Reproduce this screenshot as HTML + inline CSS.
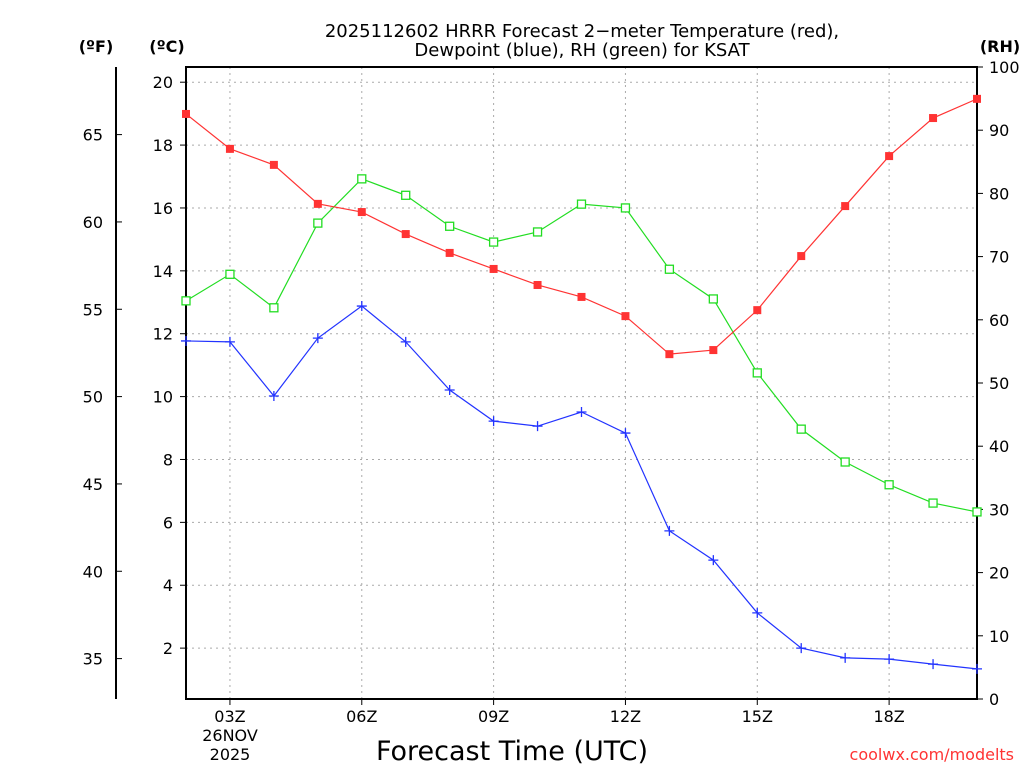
<!DOCTYPE html>
<html><head><meta charset="utf-8"><style>
html,body{margin:0;padding:0;background:#fff;}
svg text{font-family:"DejaVu Sans","Liberation Sans",sans-serif;}
</style></head><body>
<svg width="1024" height="768" viewBox="0 0 1024 768" id="chart">
<g id="g"></g>
<text x="582" y="37" text-anchor="middle" font-size="18">2025112602 HRRR Forecast 2−meter Temperature (red),</text>
<text x="582" y="56" text-anchor="middle" font-size="18">Dewpoint (blue), RH (green) for KSAT</text>
<text x="96" y="52" text-anchor="middle" font-size="16" font-weight="bold">(ºF)</text>
<text x="167" y="52" text-anchor="middle" font-size="16" font-weight="bold">(ºC)</text>
<text x="1000" y="52" text-anchor="middle" font-size="16" font-weight="bold">(RH)</text>
<text x="230" y="741" text-anchor="middle" font-size="16">26NOV</text>
<text x="230" y="760" text-anchor="middle" font-size="16">2025</text>
<text x="512" y="760" text-anchor="middle" font-size="27">Forecast Time (UTC)</text>
<text x="1014" y="760" text-anchor="end" font-size="16" fill="#ff3333">coolwx.com/modelts</text>
</svg>
<script>
const hours=[2,3,4,5,6,7,8,9,10,11,12,13,14,15,16,17,18,19,20];
const tempC=[18.99,17.88,17.37,16.13,15.87,15.17,14.57,14.06,13.55,13.17,12.56,11.35,11.48,12.75,14.47,16.06,17.65,18.86,19.47];
const dewC=[11.77,11.74,10.02,11.86,12.88,11.74,10.21,9.22,9.06,9.51,8.84,5.73,4.80,3.12,2.00,1.69,1.65,1.49,1.34];
const rh=[63.0,67.2,61.9,75.3,82.3,79.7,74.8,72.3,73.9,78.3,77.7,68.0,63.3,51.6,42.7,37.5,33.9,31.0,29.6];
const cTicks=[2,4,6,8,10,12,14,16,18,20];
const fTicks=[35,40,45,50,55,60,65];
const rhTicks=[0,10,20,30,40,50,60,70,80,90,100];
const xTicks=[3,6,9,12,15,18];
const xLabels=["03Z","06Z","09Z","12Z","15Z","18Z"];

const L=186,R=977,T=67,B=699;
const x=h=>L+(h-2)*(R-L)/18;
const yC=c=>711-c*31.44;
const yF=f=>yC((f-32)*5/9);
const yR=r=>B-r*(B-T)/100;
const NS="http://www.w3.org/2000/svg";
const g=document.getElementById('g');
function el(t,a,txt){const e=document.createElementNS(NS,t);for(const k in a)e.setAttribute(k,a[k]);if(txt!==undefined)e.textContent=txt;g.appendChild(e);return e;}

xTicks.forEach(h=>{const e=el('line',{x1:x(h),x2:x(h),y1:T,y2:B,stroke:'#aaa','stroke-dasharray':'2,4'});

});
cTicks.forEach(c=>{const e=el('line',{x1:L,x2:R,y1:yC(c),y2:yC(c),stroke:'#aaa','stroke-dasharray':'2,4'});

});

let fr=el('rect',{x:L,y:T,width:R-L,height:B-T,fill:'none',stroke:'#000','stroke-width':2});


let fa=el('line',{x1:116,x2:116,y1:T,y2:B,stroke:'#000','stroke-width':2});



cTicks.forEach(c=>{el('line',{x1:L-6,x2:L,y1:yC(c),y2:yC(c),stroke:'#000'});
const t=el('text',{x:L-13,y:yC(c)+6,'text-anchor':'end','font-size':16},String(c));

});
fTicks.forEach(f=>{el('line',{x1:116,x2:122,y1:yF(f),y2:yF(f),stroke:'#000'});
const t=el('text',{x:103,y:yF(f)+6,'text-anchor':'end','font-size':16},String(f));

});
rhTicks.forEach(r=>{el('line',{x1:R,x2:R+6,y1:yR(r),y2:yR(r),stroke:'#000'});
const t=el('text',{x:R+12,y:yR(r)+6,'text-anchor':'start','font-size':16},String(r));

});
xTicks.forEach((h,i)=>{el('line',{x1:x(h),x2:x(h),y1:B,y2:B+6,stroke:'#000'});
const t=el('text',{x:x(h),y:722,'text-anchor':'middle','font-size':16},xLabels[i]);

});

function series(vals,yf,color,mark,name){
  const pts=vals.map((v,i)=>x(hours[i])+','+yf(v)).join(' ');
  const p=el('polyline',{points:pts,fill:'none',stroke:color,'stroke-width':1.2});
  
  
  vals.forEach((v,i)=>{const cx=x(hours[i]),cy=yf(v);let m;
    if(mark==='fill')m=el('rect',{x:cx-4,y:cy-4,width:8,height:8,fill:color});
    else if(mark==='open')m=el('rect',{x:cx-4,y:cy-4,width:8,height:8,fill:'#fff',stroke:color,'stroke-width':1.3});
    else m=el('path',{d:`M${cx-5},${cy}H${cx+5}M${cx},${cy-5}V${cy+5}`,stroke:color,'stroke-width':1.3});
    
    });
}
series(rh,yR,'#22dd22','open','rh');
series(dewC,yC,'#2233ff','plus','dewpoint');
series(tempC,yC,'#ff3333','fill','temperature');
</script>
</body></html>
